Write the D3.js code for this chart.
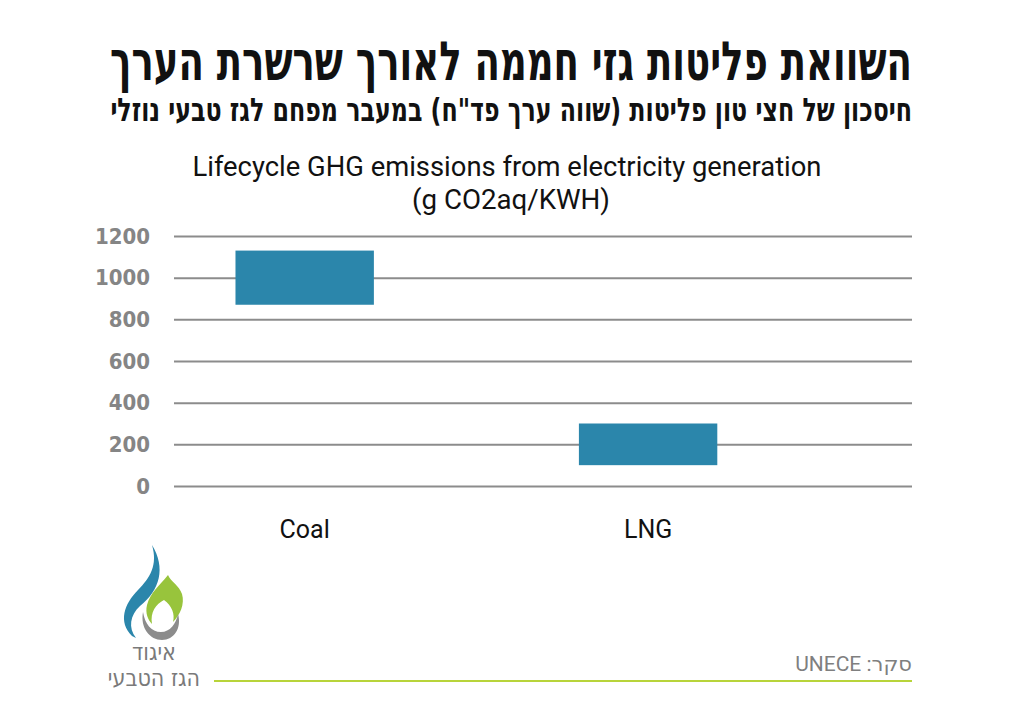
<!DOCTYPE html>
<html>
<head>
<meta charset="utf-8">
<script src="https://cdn.jsdelivr.net/npm/d3@7"></script>
<style>
  body { margin: 0; background: #fff; }
  svg { display: block; }
</style>
</head>
<body>
<svg id="chart" width="1024" height="714"></svg>
<script>
// Data
const categories = ["Coal", "LNG"];
const lowValues = [870, 100];
const highValues = [1130, 300];
const yTicks = [0, 200, 400, 600, 800, 1000, 1200];

const titleText = "השוואת פליטות גזי חממה לאורך שרשרת הערך";
const subtitleText = "חיסכון של חצי טון פליטות (שווה ערך פד\"ח) במעבר מפחם לגז טבעי נוזלי";
const chartTitle = ["Lifecycle GHG emissions from electricity generation", "(g CO2aq/KWH)"];
const sourceText = "סקר: UNECE";
const logoLines = ["איגוד", "הגז הטבעי"];

const svg = d3.select("#chart");

// Scales
const x = d3.scaleBand()
    .domain(categories)
    .range([174, 912])
    .paddingInner(0.597)
    .paddingOuter(0.373)
    .align(0.24);

const y = d3.scaleLinear()
    .domain([0, 1200])
    .range([486, 236]);

// squeeze a text horizontally so it spans the given width
function fitWidth(sel, width) {
    const w = sel.node().getComputedTextLength();
    sel.attr("transform", `scale(${width / w},1)`);
}

// Header (Hebrew)
const head = svg.append("g").attr("transform", "translate(912,0)");
head.append("text")
    .attr("x", 0).attr("y", 80)
    .attr("direction", "rtl")
    .attr("text-anchor", "start")
    .attr("font-family", "DejaVu Sans Condensed, DejaVu Sans")
    .attr("font-weight", "bold")
    .attr("font-size", 54)
    .attr("fill", "#111")
    .text(titleText)
    .call(fitWidth, 802);

head.append("text")
    .attr("x", 0).attr("y", 121)
    .attr("direction", "rtl")
    .attr("text-anchor", "start")
    .attr("font-family", "DejaVu Sans Condensed, DejaVu Sans")
    .attr("font-weight", "bold")
    .attr("font-size", 32)
    .attr("fill", "#111")
    .text(subtitleText)
    .call(fitWidth, 802);

// Chart title
svg.append("text")
    .attr("x", 507).attr("y", 176)
    .attr("text-anchor", "middle")
    .attr("font-family", "Roboto, sans-serif")
    .attr("font-size", 27)
    .attr("textLength", 629)
    .attr("lengthAdjust", "spacingAndGlyphs")
    .attr("fill", "#111")
    .text(chartTitle[0]);

svg.append("text")
    .attr("x", 511).attr("y", 209)
    .attr("text-anchor", "middle")
    .attr("font-family", "Roboto, sans-serif")
    .attr("font-size", 27)
    .attr("textLength", 198)
    .attr("lengthAdjust", "spacingAndGlyphs")
    .attr("fill", "#111")
    .text(chartTitle[1]);

// Y axis with gridlines
const yAxis = d3.axisLeft(y)
    .tickValues(yTicks)
    .tickFormat(d3.format("d"))
    .tickSize(-(912 - 174))
    .tickPadding(24);

const gy = svg.append("g")
    .attr("transform", "translate(174,0)")
    .call(yAxis);

gy.select(".domain").remove();
gy.selectAll(".tick line")
    .attr("stroke", "#8c8c8c")
    .attr("stroke-width", 2);
gy.selectAll(".tick text")
    .attr("fill", "#858585")
    .attr("font-family", "DejaVu Sans Condensed, DejaVu Sans")
    .attr("font-weight", "bold")
    .attr("font-size", 22);

// Range boxes
svg.selectAll("rect.range")
    .data(categories)
    .enter()
    .append("rect")
    .attr("class", "range")
    .attr("x", d => x(d))
    .attr("width", x.bandwidth())
    .attr("y", (d, i) => y(highValues[i]))
    .attr("height", (d, i) => y(lowValues[i]) - y(highValues[i]))
    .attr("fill", "#2b86ab");

// Category labels
const xAxis = d3.axisBottom(x).tickSize(0).tickPadding(0);
const gx = svg.append("g")
    .attr("transform", "translate(0,519)")
    .call(xAxis);
gx.select(".domain").remove();
gx.selectAll(".tick text")
    .attr("fill", "#111")
    .attr("font-family", "Roboto, sans-serif")
    .attr("font-size", 25)
    .attr("dy", "0.75em");

// Source + green rule
svg.append("text")
    .attr("x", 912).attr("y", 671)
    .attr("direction", "rtl")
    .attr("text-anchor", "start")
    .attr("font-family", "Roboto, DejaVu Sans, sans-serif")
    .attr("font-size", 21)
    .attr("fill", "#7f7f7f")
    .text(sourceText);

svg.append("line")
    .attr("x1", 214).attr("x2", 912)
    .attr("y1", 681).attr("y2", 681)
    .attr("stroke", "#b8d43a")
    .attr("stroke-width", 2);

// Logo
const logo = svg.append("g");
logo.append("path") // blue flame
    .attr("d", "M152,545 C166,568 160,590 140,606 C130,615 128,628 136,638 L132,636 C118,622 124,604 138,590 C150,578 158,565 152,545 Z")
    .attr("fill", "#2b86ab");
logo.append("path") // green flame
    .attr("d", "M168,575 C160,585 150,593 147,605 C145,613 148,620 152,624 C150,612 156,604 164,600 C172,606 175,614 173,622 C180,615 185,604 182,594 C179,585 171,582 168,575 Z")
    .attr("fill", "#98c43c");
logo.append("path") // gray crescent
    .attr("d", "M143,612 C140,628 150,640 162,640 C174,640 182,628 178,614 C176,624 170,632 161,632 C151,632 145,624 143,612 Z")
    .attr("fill", "#8c8c8c");

logo.selectAll("text")
    .data(logoLines)
    .enter()
    .append("text")
    .attr("x", 154)
    .attr("y", (d, i) => 660 + i * 26)
    .attr("text-anchor", "middle")
    .attr("font-family", "DejaVu Sans Condensed, DejaVu Sans")
    .attr("font-size", 23)
    .attr("fill", "#7a7a7a")
    .text(d => d);
</script>
</body>
</html>
